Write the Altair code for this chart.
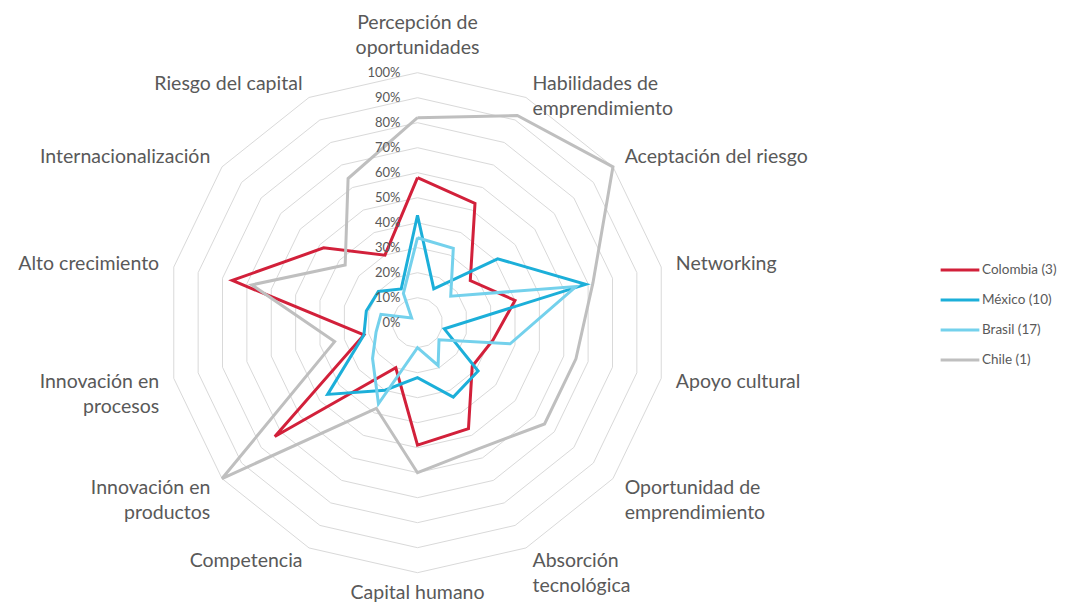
import altair as alt
import pandas as pd

categories = [
    "Percepción de\noportunidades",
    "Habilidades de\nemprendimiento",
    "Aceptación del riesgo",
    "Networking",
    "Apoyo cultural",
    "Oportunidad de\nemprendimiento",
    "Absorción\ntecnológica",
    "Capital humano",
    "Competencia",
    "Innovación en\nproductos",
    "Innovación en\nprocesos",
    "Alto crecimiento",
    "Internacionalización",
    "Riesgo del capital",
]
colombia = [0.58, 0.53, 0.27, 0.40, 0.31, 0.28, 0.47, 0.49, 0.20, 0.73, 0.22, 0.76, 0.48, 0.30]
mexico = [0.43, 0.15, 0.41, 0.69, 0.11, 0.31, 0.33, 0.22, 0.30, 0.46, 0.22, 0.21, 0.20, 0.15]
brasil = [0.34, 0.33, 0.17, 0.65, 0.38, 0.11, 0.19, 0.10, 0.36, 0.23, 0.17, 0.15, 0.03, 0.13]
chile = [0.82, 0.92, 1.00, 0.72, 0.65, 0.65, 0.56, 0.60, 0.38, 1.00, 0.34, 0.68, 0.37, 0.64]
series_names = ["Colombia (3)", "México (10)", "Brasil (17)", "Chile (1)"]
series_colors = ["#D2203A", "#1CAFD9", "#74D1EC", "#BFBFBF"]
tick_levels = [0.0, 0.1, 0.2, 0.3, 0.4, 0.5, 0.6, 0.7, 0.8, 0.9, 1.0]

# layout (pixels)
W, H = 1054, 596
CX, CY, R = 409.5, 314.7, 250.0
N = len(categories)
FONT = "Lato"
TXT = "#595959"

rows = []
for name, vals in zip(series_names, [colombia, mexico, brasil, chile]):
    for i in range(N + 1):
        rows.append({"serie": name, "idx": i, "value": vals[i % N]})
series_df = pd.DataFrame(rows)

ring_rows = []
for lv in tick_levels[1:]:
    for i in range(N + 1):
        ring_rows.append({"level": lv, "idx": i})
ring_df = pd.DataFrame(ring_rows)

tick_df = pd.DataFrame({"level": tick_levels})
label_df = pd.DataFrame({"label": categories, "idx": list(range(N))})

xs = alt.Scale(domain=[-CX / R, (W - CX) / R], nice=False, zero=False)
ys = alt.Scale(domain=[-(H - CY) / R, CY / R], nice=False, zero=False)
X = alt.X("px:Q", scale=xs, axis=None)
Y = alt.Y("py:Q", scale=ys, axis=None)

ang = f"2*PI*datum.idx/{N}"

rings = (
    alt.Chart(ring_df)
    .transform_calculate(px=f"datum.level*sin({ang})", py=f"datum.level*cos({ang})")
    .mark_line(color="#D9D9D9", strokeWidth=1)
    .encode(x=X, y=Y, detail="level:N", order="idx:Q")
)

lines = (
    alt.Chart(series_df)
    .transform_calculate(px=f"datum.value*sin({ang})", py=f"datum.value*cos({ang})")
    .mark_line(strokeWidth=3)
    .encode(
        x=X,
        y=Y,
        order="idx:Q",
        color=alt.Color(
            "serie:N",
            scale=alt.Scale(domain=series_names, range=series_colors),
            legend=alt.Legend(
                title=None,
                orient="none",
                legendX=931,
                legendY=241,
                symbolType="stroke",
                symbolStrokeWidth=3,
                symbolSize=1500,
                labelFont=FONT,
                labelFontSize=13.5,
                labelColor=TXT,
                labelLimit=200,
                rowPadding=2,
                labelOffset=1,
            ),
        ),
    )
)

ticks = (
    alt.Chart(tick_df)
    .transform_calculate(px="0", py="datum.level")
    .mark_text(align="right", baseline="middle", dx=-17, font=FONT, fontSize=13, color=TXT)
    .encode(x=X, y=Y, text=alt.Text("level:Q", format=".0%"))
)

LR = 1.06
base_lab = alt.Chart(label_df).transform_calculate(
    s=f"sin({ang})", c=f"cos({ang})"
).transform_calculate(px=f"{LR}*datum.s", py=f"{LR}*datum.c")


def lab(filt, align, baseline, dy=0):
    return (
        base_lab.transform_filter(filt)
        .mark_text(align=align, baseline=baseline, font=FONT, fontSize=19.5,
                   color=TXT, lineBreak="\n", lineHeight=25, dy=dy)
        .encode(x=X, y=Y, text="label:N")
    )


labels = (
    lab("datum.s > 0.1", "left", "middle")
    + lab("datum.s < -0.1", "right", "middle")
    + lab("abs(datum.s) <= 0.1 && datum.c > 0", "center", "bottom", dy=-25)
    + lab("abs(datum.s) <= 0.1 && datum.c < 0", "center", "top", dy=-4)
)

chart = (
    alt.layer(rings, lines, ticks, labels)
    .properties(width=W, height=H, padding=0, autosize=alt.AutoSizeParams(type="none"))
    .configure_view(stroke=None)
)

chart.save("out.html", embed_options={"renderer": "svg", "actions": False})
